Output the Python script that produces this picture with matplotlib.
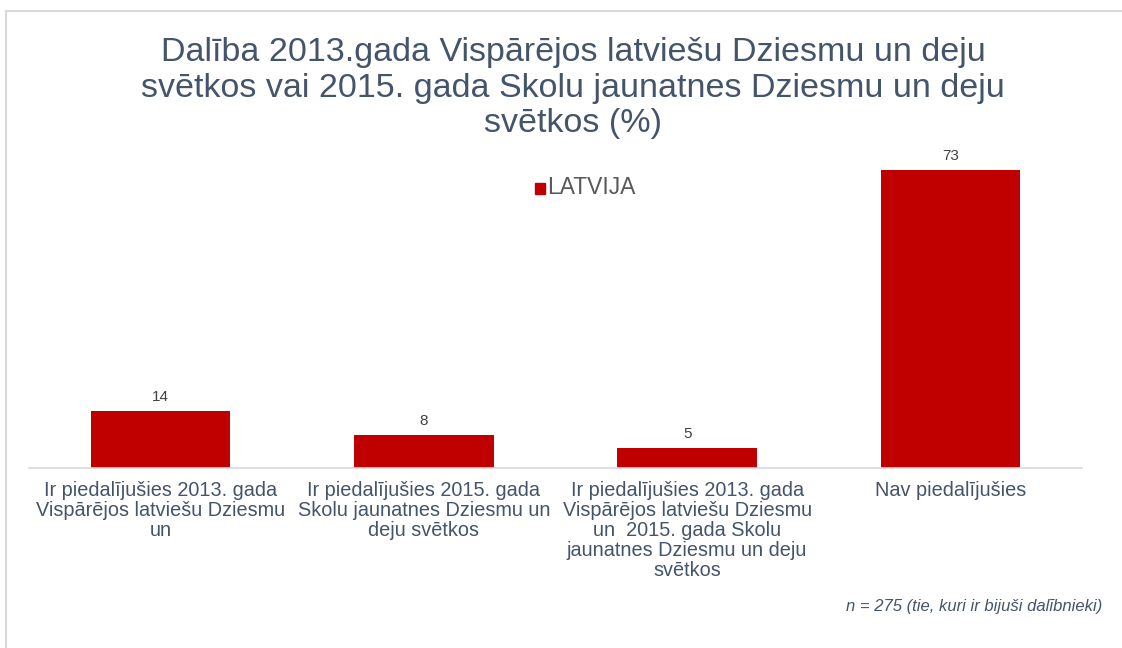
import matplotlib
matplotlib.use('Agg')
import matplotlib.pyplot as plt
from matplotlib.lines import Line2D
from matplotlib.patches import Rectangle

plt.rcParams['font.family'] = ['Liberation Sans', 'DejaVu Sans']

####### data
categories = [
    'Ir piedalījušies 2013. gada\nVispārējos latviešu Dziesmu\nun',
    'Ir piedalījušies 2015. gada\nSkolu jaunatnes Dziesmu un\ndeju svētkos',
    'Ir piedalījušies 2013. gada\nVispārējos latviešu Dziesmu\nun  2015. gada Skolu\njaunatnes Dziesmu un deju\nsvētkos',
    'Nav piedalījušies',
]
values = [14, 8, 5, 73]
series_name = 'LATVIJA'
title = ('Dalība 2013.gada Vispārējos latviešu Dziesmu un deju\n'
         'svētkos vai 2015. gada Skolu jaunatnes Dziesmu un deju\n'
         'svētkos (%)')
note = 'n = 275 (tie, kuri ir bijuši dalībnieki)'

bar_color = '#C00000'
title_color = '#44546A'
text_color = '#44546A'

fig = plt.figure(figsize=(11.22, 6.48), dpi=100)
# axes: x 29..1082 px, baseline at y=468 px, ylim 0..80
ax = fig.add_axes([29 / 1122, 1 - 468 / 648, (1082 - 29) / 1122, (80 * 4.08) / 648])

x = range(len(values))
bars = ax.bar(x, values, width=0.53, color=bar_color, label=series_name)
ax.set_xlim(-0.5, len(values) - 0.5)
ax.set_ylim(0, 80)

for b, v in zip(bars, values):
    ax.annotate(str(v), (b.get_x() + b.get_width() / 2, v), xytext=(0, 5),
                textcoords='offset points', ha='center', va='bottom',
                fontsize=11, color='#404040')

ax.set_xticks(list(x))
ax.set_xticklabels(categories, fontsize=14.3, color=text_color, linespacing=1.08)
ax.tick_params(axis='x', length=0, pad=9)
ax.set_yticks([])
for s in ['top', 'right', 'left']:
    ax.spines[s].set_visible(False)
ax.spines['bottom'].set_color('#D9D9D9')
ax.spines['bottom'].set_linewidth(1.2)

# legend
fig.text(547 / 1122, 1 - 187 / 648, series_name, fontsize=16.5, color='#595959',
         ha='left', va='center')
fig.patches.append(Rectangle((535 / 1122, 1 - 194 / 648), 10 / 1122, 11 / 648,
                             transform=fig.transFigure, color=bar_color))

fig.text(573 / 1122, 1 - 88 / 648, title, fontsize=24.5, color=title_color,
         ha='center', va='center', linespacing=1.2)

fig.text(1102 / 1122, 1 - 607 / 648, note, fontsize=12, style='italic',
         color=text_color, ha='right', va='center')

# light frame (top and left edges)
fig.add_artist(Line2D([6 / 1122, 1], [1 - 11 / 648, 1 - 11 / 648],
                      transform=fig.transFigure, color='#D9D9D9', lw=1.5))
fig.add_artist(Line2D([6 / 1122, 6 / 1122], [0, 1 - 11 / 648],
                      transform=fig.transFigure, color='#D9D9D9', lw=1.5))

fig.savefig('out.png', dpi=100)
